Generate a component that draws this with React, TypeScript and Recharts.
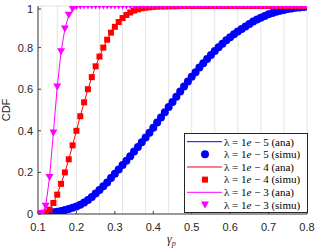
import React from 'react';
import { LineChart, Line, XAxis, YAxis, CartesianGrid } from 'recharts';

// gamma_p sample points
const gamma = [
  0.10, 0.11, 0.12, 0.13, 0.14, 0.15, 0.16, 0.17, 0.18, 0.19,
  0.20, 0.21, 0.22, 0.23, 0.24, 0.25, 0.26, 0.27, 0.28, 0.29,
  0.30, 0.31, 0.32, 0.33, 0.34, 0.35, 0.36, 0.37, 0.38, 0.39,
  0.40, 0.41, 0.42, 0.43, 0.44, 0.45, 0.46, 0.47, 0.48, 0.49,
  0.50, 0.51, 0.52, 0.53, 0.54, 0.55, 0.56, 0.57, 0.58, 0.59,
  0.60, 0.61, 0.62, 0.63, 0.64, 0.65, 0.66, 0.67, 0.68, 0.69,
  0.70, 0.71, 0.72, 0.73, 0.74, 0.75, 0.76, 0.77, 0.78, 0.79,
  0.80,
];

// lambda = 1e-5
const cdfLambda1e5 = [
  0, 0.001, 0.003, 0.005, 0.008, 0.011, 0.015, 0.019, 0.024, 0.030,
  0.036, 0.044, 0.055, 0.067, 0.082, 0.098, 0.115, 0.133, 0.152, 0.173,
  0.194, 0.214, 0.235, 0.256, 0.278, 0.300, 0.322, 0.345, 0.368, 0.391,
  0.415, 0.440, 0.464, 0.489, 0.514, 0.539, 0.564, 0.589, 0.613, 0.637,
  0.660, 0.682, 0.704, 0.725, 0.745, 0.765, 0.784, 0.802, 0.819, 0.835,
  0.850, 0.864, 0.877, 0.890, 0.902, 0.914, 0.925, 0.935, 0.944, 0.952,
  0.960, 0.966, 0.972, 0.977, 0.981, 0.985, 0.988, 0.991, 0.993, 0.995,
  0.997,
];

// lambda = 1e-4
const cdfLambda1e4 = [
  0, 0.001, 0.006, 0.021, 0.053, 0.093, 0.145, 0.200, 0.263, 0.330,
  0.400, 0.470, 0.537, 0.600, 0.658, 0.710, 0.757, 0.800, 0.838, 0.872,
  0.900, 0.923, 0.942, 0.957, 0.969, 0.978, 0.984, 0.989, 0.992, 0.994,
  0.996, 0.997, 0.998, 0.998, 0.999, 0.999, 0.999, 1, 1, 1,
  1, 1, 1, 1, 1, 1, 1, 1, 1, 1,
  1, 1, 1, 1, 1, 1, 1, 1, 1, 1,
  1, 1, 1, 1, 1, 1, 1, 1, 1, 1,
  1,
];

// lambda = 1e-3
const cdfLambda1e3 = [
  0, 0.003, 0.037, 0.175, 0.390, 0.610, 0.780, 0.890, 0.955, 0.985,
  0.996, 0.999, 1, 1, 1, 1, 1, 1, 1, 1,
  1, 1, 1, 1, 1, 1, 1, 1, 1, 1,
  1, 1, 1, 1, 1, 1, 1, 1, 1, 1,
  1, 1, 1, 1, 1, 1, 1, 1, 1, 1,
  1, 1, 1, 1, 1, 1, 1, 1, 1, 1,
  1, 1, 1, 1, 1, 1, 1, 1, 1, 1,
  1,
];

const xTicks = [0.1, 0.2, 0.3, 0.4, 0.5, 0.6, 0.7, 0.8];
const xTickLabels = ['0.1', '0.2', '0.3', '0.4', '0.5', '0.6', '0.7', '0.8'];
const yTicks = [0, 0.2, 0.4, 0.6, 0.8, 1];
const yTickLabels = ['0', '0.2', '0.4', '0.6', '0.8', '1'];

const lambdaLabels = ['1e − 5', '1e − 4', '1e − 3'];
const seriesColors = ['#0000ff', '#ff0000', '#ff00ff'];

const data = gamma.map((g, i) => ({
  g,
  s5: cdfLambda1e5[i],
  s4: cdfLambda1e4[i],
  s3: cdfLambda1e3[i],
}));

const AXIS = '#404040';
const TICKTXT = '#262626';
const SANS = '"Liberation Sans", Arial, Helvetica, sans-serif';
const SERIF = '"Liberation Serif", "Times New Roman", serif';
const TL = 3;

const Circle = (p: any) => (
  <circle key={`c${p.index}`} cx={p.cx} cy={p.cy} r={4} fill={seriesColors[0]} />
);
const Square = (p: any) => (
  <rect key={`s${p.index}`} x={p.cx - 3} y={p.cy - 3} width={6} height={6} fill={seriesColors[1]} />
);
const TriDown = (p: any) => (
  <polygon
    key={`t${p.index}`}
    points={`${p.cx - 4},${p.cy - 3.5} ${p.cx + 4},${p.cy - 3.5} ${p.cx},${p.cy + 3.5}`}
    fill={seriesColors[2]}
  />
);

const fmtX = (v: number) => {
  const i = xTicks.findIndex((t) => Math.abs(t - v) < 1e-9);
  return i >= 0 ? xTickLabels[i] : String(v);
};
const fmtY = (v: number) => {
  const i = yTicks.findIndex((t) => Math.abs(t - v) < 1e-9);
  return i >= 0 ? yTickLabels[i] : String(v);
};

const BottomTick = (p: any) => (
  <g>
    <line x1={p.x} x2={p.x} y1={p.y} y2={p.y - TL} stroke={AXIS} strokeWidth={1} />
    <text x={p.x} y={p.y + 17} textAnchor="middle" fontSize={11} fontFamily={SANS} fill={TICKTXT}>
      {fmtX(p.payload.value)}
    </text>
  </g>
);
const TopTick = (p: any) => (
  <line x1={p.x} x2={p.x} y1={p.y} y2={p.y + TL} stroke={AXIS} strokeWidth={1} />
);
const LeftTick = (p: any) => (
  <g>
    <line x1={p.x} x2={p.x + TL} y1={p.y} y2={p.y} stroke={AXIS} strokeWidth={1} />
    <text x={p.x - 5} y={p.y + 4} textAnchor="end" fontSize={11} fontFamily={SANS} fill={TICKTXT}>
      {fmtY(p.payload.value)}
    </text>
  </g>
);
const RightTick = (p: any) => (
  <line x1={p.x} x2={p.x - TL} y1={p.y} y2={p.y} stroke={AXIS} strokeWidth={1} />
);

const legendRows = [
  { kind: 'line', s: 0, tag: '(ana)' },
  { kind: 'marker', s: 0, tag: '(simu)' },
  { kind: 'line', s: 1, tag: '(ana)' },
  { kind: 'marker', s: 1, tag: '(simu)' },
  { kind: 'line', s: 2, tag: '(ana)' },
  { kind: 'marker', s: 2, tag: '(simu)' },
];

const LegendMarker = ({ s, cx, cy }: { s: number; cx: number; cy: number }) => {
  if (s === 0) return <circle cx={cx} cy={cy} r={4} fill={seriesColors[0]} />;
  if (s === 1) return <rect x={cx - 3} y={cy - 3} width={6} height={6} fill={seriesColors[1]} />;
  return (
    <polygon
      points={`${cx - 4},${cy - 3.5} ${cx + 4},${cy - 3.5} ${cx},${cy + 3.5}`}
      fill={seriesColors[2]}
    />
  );
};

export default function App() {
  const lx = 184;
  const ly = 133;
  const lw = 124;
  const lh = 80;
  const rowY = [141.7, 154.3, 167, 179.6, 192.3, 205];
  return (
    <div style={{ position: 'absolute', left: 0, top: 0, width: 318, height: 251, background: '#fff' }}>
      <LineChart
        width={318}
        height={251}
        data={data}
        margin={{ top: 6, right: 11, bottom: 7, left: 8 }}
      >
        <CartesianGrid stroke="#e4e4e4" strokeWidth={1} verticalPoints={undefined} />
        <XAxis
          xAxisId="b"
          dataKey="g"
          type="number"
          domain={[0.1, 0.8]}
          ticks={xTicks}
          orientation="bottom"
          height={30}
          tickSize={0}
          tickMargin={0}
          tickLine={false}
          axisLine={{ stroke: AXIS, strokeWidth: 1 }}
          tick={<BottomTick />}
          allowDataOverflow
        />
        <XAxis
          xAxisId="t"
          dataKey="g"
          type="number"
          domain={[0.1, 0.8]}
          ticks={xTicks}
          orientation="top"
          height={0}
          tickSize={0}
          tickMargin={0}
          tickLine={false}
          axisLine={{ stroke: AXIS, strokeWidth: 1 }}
          tick={<TopTick />}
          allowDataOverflow
        />
        <YAxis
          yAxisId="l"
          type="number"
          domain={[0, 1]}
          ticks={yTicks}
          orientation="left"
          width={30}
          tickSize={0}
          tickMargin={0}
          tickLine={false}
          axisLine={{ stroke: AXIS, strokeWidth: 1 }}
          tick={<LeftTick />}
          allowDataOverflow
        />
        <YAxis
          yAxisId="r"
          type="number"
          domain={[0, 1]}
          ticks={yTicks}
          orientation="right"
          width={0}
          tickSize={0}
          tickMargin={0}
          tickLine={false}
          axisLine={{ stroke: AXIS, strokeWidth: 1 }}
          tick={<RightTick />}
          allowDataOverflow
        />
        <Line
          xAxisId="b"
          yAxisId="l"
          type="linear"
          dataKey="s5"
          stroke={seriesColors[0]}
          strokeWidth={1}
          dot={Circle}
          activeDot={false}
          isAnimationActive={false}
        />
        <Line
          xAxisId="b"
          yAxisId="l"
          type="linear"
          dataKey="s4"
          stroke={seriesColors[1]}
          strokeWidth={1}
          dot={Square}
          activeDot={false}
          isAnimationActive={false}
        />
        <Line
          xAxisId="b"
          yAxisId="l"
          type="linear"
          dataKey="s3"
          stroke={seriesColors[2]}
          strokeWidth={1}
          dot={TriDown}
          activeDot={false}
          isAnimationActive={false}
        />
      </LineChart>
      <svg
        width={318}
        height={251}
        style={{ position: 'absolute', left: 0, top: 0, pointerEvents: 'none' }}
      >
        <text
          transform="translate(9.5,110) rotate(-90)"
          textAnchor="middle"
          fontSize={11}
          fontFamily={SANS}
          fill={TICKTXT}
        >
          CDF
        </text>
        <text x={167} y={243} fontSize={12} fontFamily={SERIF} fontStyle="italic" fill={TICKTXT}>
          γ
          <tspan fontSize={8} dy={2.5}>
            p
          </tspan>
        </text>
        <rect x={lx + 0.5} y={ly + 0.5} width={lw - 1} height={lh - 1} fill="#fff" stroke="#262626" strokeWidth={1} />
        {legendRows.map((r, i) => {
          const cy = rowY[i];
          return (
            <g key={i}>
              {r.kind === 'line' ? (
                <line x1={187} x2={222} y1={cy} y2={cy} stroke={seriesColors[r.s]} strokeWidth={1} />
              ) : (
                <LegendMarker s={r.s} cx={205} cy={cy} />
              )}
              <text x={224} y={cy + 3.8} fontSize={11} fontFamily={SERIF} fill="#000">
                λ = 1<tspan fontStyle="italic">e</tspan>
                {' − '}
                {lambdaLabels[r.s].slice(-1)} {r.tag}
              </text>
            </g>
          );
        })}
      </svg>
    </div>
  );
}
